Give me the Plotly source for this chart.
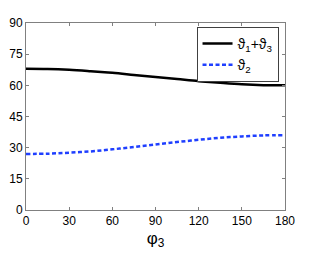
import plotly.graph_objects as go

phi3 = [0, 15, 30, 45, 60, 75, 90, 105, 120, 135, 150, 165, 180]
theta13 = [68.0, 67.9, 67.5, 66.8, 66.0, 65.0, 64.0, 63.0, 62.0, 61.2, 60.5, 60.1, 60.0]
theta2 = [27.0, 27.1, 27.6, 28.2, 29.2, 30.3, 31.5, 32.7, 33.8, 34.8, 35.4, 35.9, 36.0]
xticks = [0, 30, 60, 90, 120, 150, 180]
yticks = [0, 15, 30, 45, 60, 75, 90]

fig = go.Figure()
fig.add_trace(go.Scatter(x=phi3, y=theta13, mode="lines", line=dict(color="black", width=2.5, shape="spline"),
                         name="ϑ<sub>1</sub>+ϑ<sub>3</sub>"))
fig.add_trace(go.Scatter(x=phi3, y=theta2, mode="lines", line=dict(color="#1f3fff", width=2.5, dash="4px,2.5px", shape="spline"),
                         name="ϑ<sub>2</sub>"))

axis_common = dict(showgrid=False, zeroline=False, showline=True, linecolor="#808080", linewidth=1,
                   mirror="ticks", ticks="inside", ticklen=3, tickcolor="#808080", automargin=False,
                   tickfont=dict(family="Liberation Sans, Arial", size=12, color="black"))
fig.update_xaxes(range=[0, 180], tickvals=xticks,
                 title=dict(text="φ<sub>3</sub>", font=dict(family="Liberation Sans, Arial", size=17, color="black"), standoff=4),
                 **axis_common)
fig.update_yaxes(range=[0, 90], tickvals=yticks, **axis_common)

fig.update_layout(width=308, height=246, margin=dict(l=17.5, r=31, t=15, b=44),
                  paper_bgcolor="white", plot_bgcolor="white",
                  legend=dict(x=0.975, y=0.979, xanchor="right", yanchor="top", bordercolor="#404040", borderwidth=1,
                              bgcolor="white", font=dict(family="Liberation Sans, Arial", size=14, color="black"),
                              tracegroupgap=4, itemwidth=30),
                  showlegend=True)
fig.write_html("out.html")
